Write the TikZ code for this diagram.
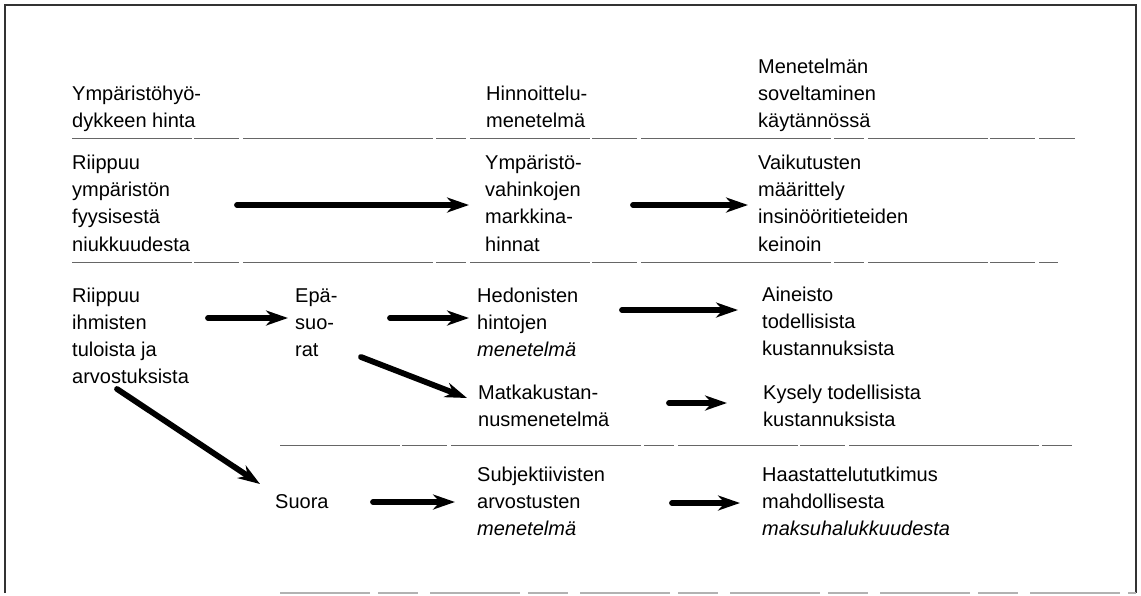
\documentclass[tikz,border=0pt]{standalone}
\usepackage{fontspec}
\setmainfont{Liberation Sans}
\usetikzlibrary{arrows.meta}
% a left-aligned block of lines whose baseline is the first line
\newcommand\txtlines[1]{\begin{tabular}[t]{@{}l@{}}#1\end{tabular}}
\begin{document}
\begin{tikzpicture}[x=1pt,y=-1pt,
  txt/.style={anchor=base west, inner sep=0pt, font=\fontsize{20}{27.2}\selectfont},
  arr/.style={line width=5.8pt, line cap=round,
    -{Stealth[length=22pt,width=15pt,inset=7pt]}},
  rule/.style={draw=black!60, line width=0.9pt,
    dash pattern=on 120pt off 2pt on 45pt off 4pt on 190pt off 3pt on 30pt off 4pt},
  frame/.style={draw=black!80, line width=1.2pt}]
\useasboundingbox (0,0) rectangle (1141,595);

% outer frame
\draw[frame] (5,593) -- (5,5) -- (1136,5) -- (1136,593);
\draw[frame, draw=black!30, dash pattern=on 90pt off 8pt on 40pt off 12pt] (280,593) -- (1136,593);

% column headings
\node[txt] (h1) at (72,100.5) {\txtlines{Ympäristöhyö-\\dykkeen hinta}};
\node[txt] (h3) at (486,100.5) {\txtlines{Hinnoittelu-\\menetelmä}};
\node[txt] (h4) at (758,73.3) {\txtlines{Menetelmän\\soveltaminen\\käytännössä}};

% horizontal rules between the rows
\draw[rule] (72,138) -- (1075,138);
\draw[rule] (72,262) -- (1058,262);
\draw[rule] (280,445) -- (1073,445);

% first row
\node[txt] (r1c1) at (72,169.5) {\txtlines{Riippuu\\ympäristön\\fyysisestä\\niukkuudesta}};
\node[txt] (r1c3) at (485,169.5) {\txtlines{Ympäristö-\\vahinkojen\\markkina-\\hinnat}};
\node[txt] (r1c4) at (758,169.5) {\txtlines{Vaikutusten\\määrittely\\insinööritieteiden\\keinoin}};

% second row
\node[txt] (r2c1) at (72,302) {\txtlines{Riippuu\\ihmisten\\tuloista ja\\arvostuksista}};
\node[txt] (r2c2) at (295,302) {\txtlines{Epä-\\suo-\\rat}};
\node[txt] (r2c3) at (477,302) {\txtlines{Hedonisten\\hintojen\\\textit{menetelmä}}};
\node[txt] (r2c4) at (762,301) {\txtlines{Aineisto\\todellisista\\kustannuksista}};
\node[txt] (r2c3b) at (478,399.5) {\txtlines{Matkakustan-\\nusmenetelmä}};
\node[txt] (r2c4b) at (763,399.5) {\txtlines{Kysely todellisista\\kustannuksista}};

% third row
\node[txt] (r3c2) at (275,508) {Suora};
\node[txt] (r3c3) at (477,481) {\txtlines{Subjektiivisten\\arvostusten\\\textit{menetelmä}}};
\node[txt] (r3c4) at (762,481) {\txtlines{Haastattelututkimus\\mahdollisesta\\\textit{maksuhalukkuudesta}}};

% arrow end points
\coordinate (a1s) at (237,205);  \coordinate (a1e) at (469,205);
\coordinate (a2s) at (633,205);  \coordinate (a2e) at (748,205);
\coordinate (a3s) at (208,318);  \coordinate (a3e) at (288,318);
\coordinate (a4s) at (390,318);  \coordinate (a4e) at (469,318);
\coordinate (a5s) at (622,310);  \coordinate (a5e) at (738,310);
\coordinate (a6s) at (361,357);  \coordinate (a6e) at (467,398);
\coordinate (a7s) at (669,403);  \coordinate (a7e) at (727,403);
\coordinate (a8s) at (117,389);  \coordinate (a8e) at (260,484);
\coordinate (a9s) at (373,502);  \coordinate (a9e) at (455,502);
\coordinate (a10s) at (672,503); \coordinate (a10e) at (740,503);

% arrows
\draw[arr] (a1s) -- (a1e);
\draw[arr] (a2s) -- (a2e);
\draw[arr] (a3s) -- (a3e);
\draw[arr] (a4s) -- (a4e);
\draw[arr] (a5s) -- (a5e);
\draw[arr] (a6s) -- (a6e);
\draw[arr] (a7s) -- (a7e);
\draw[arr] (a8s) -- (a8e);
\draw[arr] (a9s) -- (a9e);
\draw[arr] (a10s) -- (a10e);
\end{tikzpicture}
\end{document}
